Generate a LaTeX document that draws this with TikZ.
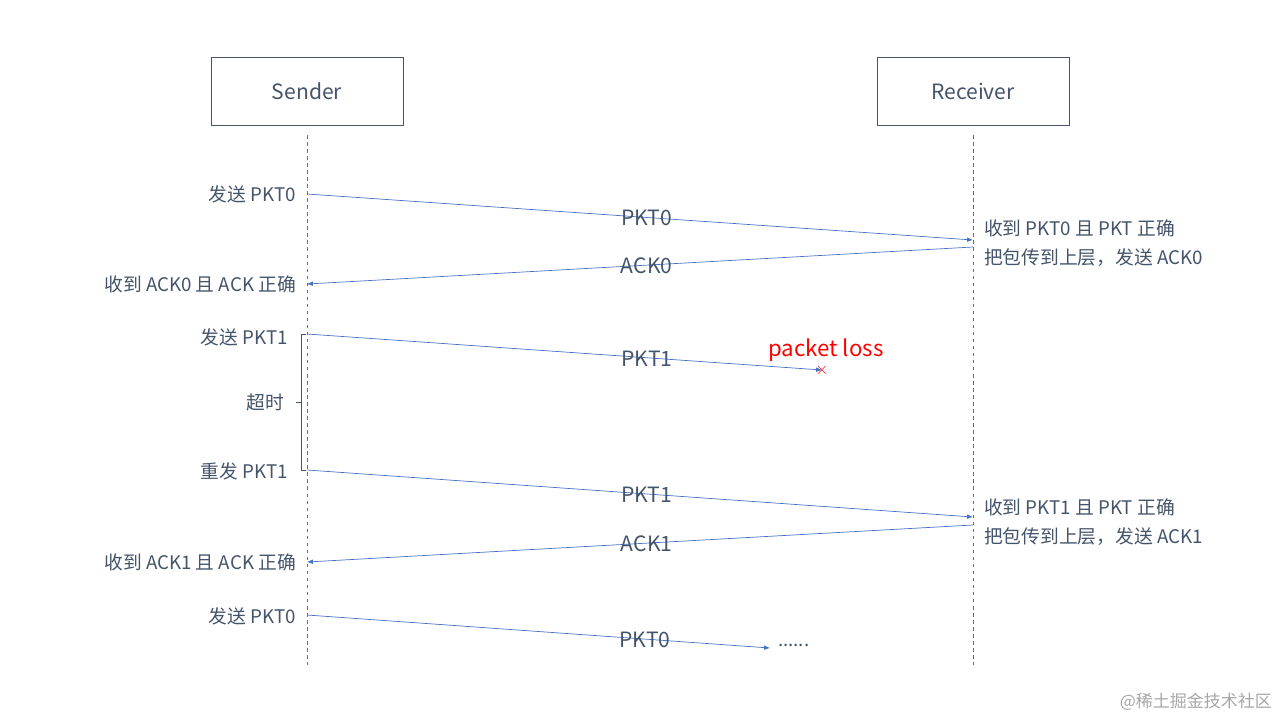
\documentclass[tikz,border=0pt]{standalone}
\usepackage{fontspec}
\setmainfont{Noto Sans CJK SC}
\usetikzlibrary{arrows.meta}
\definecolor{lineblue}{HTML}{4472C4}
\definecolor{txtgray}{HTML}{44546A}
\tikzset{
  box/.style={draw=txtgray,minimum width=192*0.03cm,minimum height=68*0.03cm,font=\fontsize{18}{21}\selectfont,text=txtgray},
  life/.style={lineblue,dashed,line width=0.5pt},
  msg/.style={lineblue,line width=0.6pt,-{Latex[length=5pt,width=4pt]}},
  msgtxt/.style={font=\fontsize{18}{21}\selectfont,text=txtgray},
  lbl/.style={font=\fontsize{16}{19}\selectfont,text=txtgray}
}
\begin{document}
\begin{tikzpicture}[x=0.03cm,y=-0.03cm]
  \useasboundingbox (0,0) rectangle (1280,720);
  % boxes and lifelines
  \node[box] (snd) at (307,91) {Sender};
  \node[box] (rcv) at (973,91) {Receiver};
  \coordinate (sTop) at (307,135); \coordinate (sBot) at (307,665);
  \coordinate (rTop) at (973,135); \coordinate (rBot) at (973,665);
  \draw[life] (sTop) -- (sBot);
  \draw[life] (rTop) -- (rBot);
  % message end points
  \coordinate (s1) at (307,194); \coordinate (r1) at (973,240);
  \coordinate (r2) at (973,247); \coordinate (s2) at (307,284);
  \coordinate (s3) at (307,334); \coordinate (loss) at (822,370);
  \coordinate (s4) at (307,470); \coordinate (r4) at (973,517);
  \coordinate (r5) at (973,525); \coordinate (s5) at (307,562);
  \coordinate (s6) at (307,615); \coordinate (e6) at (770,648);
  % messages
  \draw[msg] (s1) -- (r1) node[msgtxt,pos=0.51,above=-11pt] (m1) {PKT0};
  \draw[msg] (r2) -- (s2) node[msgtxt,pos=0.49,above=-11pt] (m2) {ACK0};
  \draw[msg] (s3) -- (loss) node[msgtxt,pos=0.66,above=-11pt] (m3) {PKT1};
  \draw[msg] (s4) -- (r4) node[msgtxt,pos=0.51,above=-11pt] (m4) {PKT1};
  \draw[msg] (r5) -- (s5) node[msgtxt,pos=0.49,above=-11pt] (m5) {ACK1};
  \draw[msg] (s6) -- (e6) node[msgtxt,pos=0.73,above=-11pt] (m6) {PKT0};
  \node[text=red,font=\fontsize{14}{14}\selectfont,inner sep=0pt] (x) at (loss) {$\times$};
  \node[text=red,font=\fontsize{19}{22}\selectfont,anchor=west,inner sep=0pt] (pl) at (768,350) {packet loss};
  \node[lbl,anchor=west] (dots) at (774,645) {......};
  % sender side labels
  \node[lbl,anchor=east] (l1) at (300,194) {发送 PKT0};
  \node[lbl,anchor=east] (l2) at (300,284) {收到 ACK0 且 ACK 正确};
  \node[lbl,anchor=east] (l3) at (292,337) {发送 PKT1};
  \node[lbl,anchor=east] (l4) at (288,402) {超时};
  \node[lbl,anchor=east] (l5) at (292,471) {重发 PKT1};
  \node[lbl,anchor=east] (l6) at (300,562) {收到 ACK1 且 ACK 正确};
  \node[lbl,anchor=east] (l7) at (300,616) {发送 PKT0};
  % timeout bracket
  \draw[txtgray,line width=0.5pt] (306,334) -- (301,334) -- (301,470) -- (306,470)
    (301,402) -- (296,402);
  % receiver side labels
  \node[lbl,anchor=west] (r1a) at (980,228) {收到 PKT0 且 PKT 正确};
  \node[lbl,anchor=west] (r1b) at (980,258) {把包传到上层，发送 ACK0};
  \node[lbl,anchor=west] (r4a) at (980,507) {收到 PKT1 且 PKT 正确};
  \node[lbl,anchor=west] (r4b) at (980,537) {把包传到上层，发送 ACK1};
  % watermark
  \node[text=gray!70,font=\fontsize{14.5}{17}\selectfont,anchor=east] (wm) at (1276,702) {@稀土掘金技术社区};
\end{tikzpicture}
\end{document}
